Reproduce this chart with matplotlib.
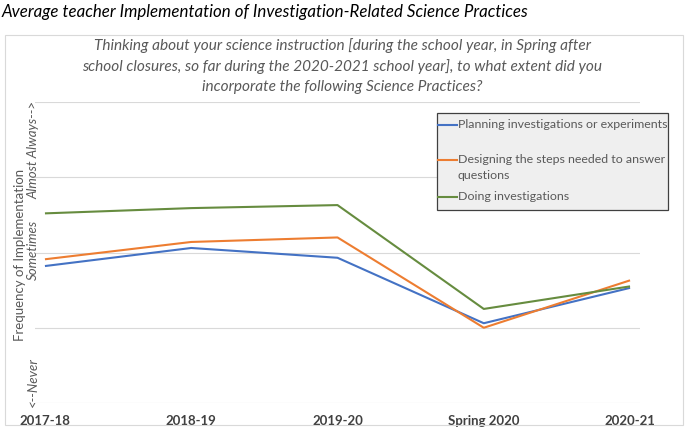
import matplotlib
matplotlib.use("Agg")
import matplotlib.pyplot as plt
from matplotlib.lines import Line2D
from matplotlib.patches import Rectangle
from matplotlib.transforms import blended_transform_factory

# data (1 = Never ... 5 = top gridline)
years = ["2017-18", "2018-19", "2019-20", "Spring 2020", "2020-21"]
planning = [2.82, 3.06, 2.93, 2.06, 2.53]
designing = [2.91, 3.14, 3.20, 2.00, 2.63]
doing = [3.52, 3.59, 3.63, 2.25, 2.55]

series_labels = [
    "Planning investigations or experiments",
    "Designing the steps needed to answer\nquestions",
    "Doing investigations",
]
level_labels = ["<--Never", "Sometimes", "Almost Always-->"]
level_pos = [1.28, 3.03, 4.36]

colors = ["#4472C4", "#ED7D31", "#668C3F"]
FONT = "Lato"
GRAY = "#595959"

fig = plt.figure(figsize=(6.85, 4.33), dpi=100)
W, H = 685, 433

# outer chart frame
fig.patches.append(Rectangle((5 / W, 1 - 425 / H), 678 / W, 390 / H, transform=fig.transFigure,
                             fill=False, edgecolor="#d9d9d9", linewidth=0.8))

ax = fig.add_axes([35 / W, 1 - 403 / H, 605 / W, 301 / H])
x = list(range(len(years)))
for vals, c, lab in zip([planning, designing, doing], colors, series_labels):
    ax.plot(x, vals, color=c, linewidth=1.5, label=lab, solid_capstyle="butt")

ax.set_xlim(-0.068, 4.068)
ax.set_ylim(1, 5)
ax.set_yticks([1, 2, 3, 4, 5])
ax.yaxis.grid(True, color="#d9d9d9", linewidth=0.8)
ax.set_axisbelow(True)
ax.tick_params(left=False, bottom=False, labelleft=False)
for s in ax.spines.values():
    s.set_visible(False)
ax.set_xticks(x)
ax.set_xticklabels(years, fontfamily=FONT, fontweight="bold", fontsize=9.5, color="#404040")
ax.tick_params(axis="x", pad=5)

level_tr = blended_transform_factory(fig.transFigure, ax.transData)
for lab, pos in zip(level_labels, level_pos):
    ax.text(33 / W, pos, lab, transform=level_tr,
            rotation=90, ha="center", va="center", fontfamily=FONT, fontstyle="italic",
            fontsize=9.5, color=GRAY)
fig.text(20 / W, 1 - 255 / H, "Frequency of Implementation", rotation=90, ha="center", va="center",
         fontfamily=FONT, fontsize=9.5, color=GRAY)

# titles
fig.text(2 / W, 1 - 12 / H, "Average teacher Implementation of Investigation-Related Science Practices",
         ha="left", va="center", fontfamily=FONT, fontstyle="italic", fontsize=12.2, color="black")
fig.text(342 / W, 1 - 66 / H,
         "Thinking about your science instruction [during the school year, in Spring after\n"
         "school closures, so far during the 2020-2021 school year], to what extent did you\n"
         "incorporate the following Science Practices?",
         ha="center", va="center", multialignment="center", linespacing=1.5,
         fontfamily=FONT, fontstyle="italic", fontsize=11.1, color=GRAY)

# legend box, drawn by hand to copy the uneven entry spacing
fig.patches.append(Rectangle((437 / W, 1 - 210 / H), 231 / W, 97 / H, transform=fig.transFigure,
                             facecolor="#efefef", edgecolor="#404040", linewidth=0.9, zorder=3))
entry_rows = [125, 160, 197]
for lab, c, row in zip(series_labels, colors, entry_rows):
    fig.add_artist(Line2D([438 / W, 457 / W], [1 - row / H] * 2, color=c, linewidth=1.5, zorder=4))
    fig.text(458 / W, 1 - (row - 6) / H, lab, ha="left", va="top", linespacing=1.55,
             fontfamily=FONT, fontsize=8.9, color=GRAY, zorder=4)

fig.savefig("out.png", dpi=100)
